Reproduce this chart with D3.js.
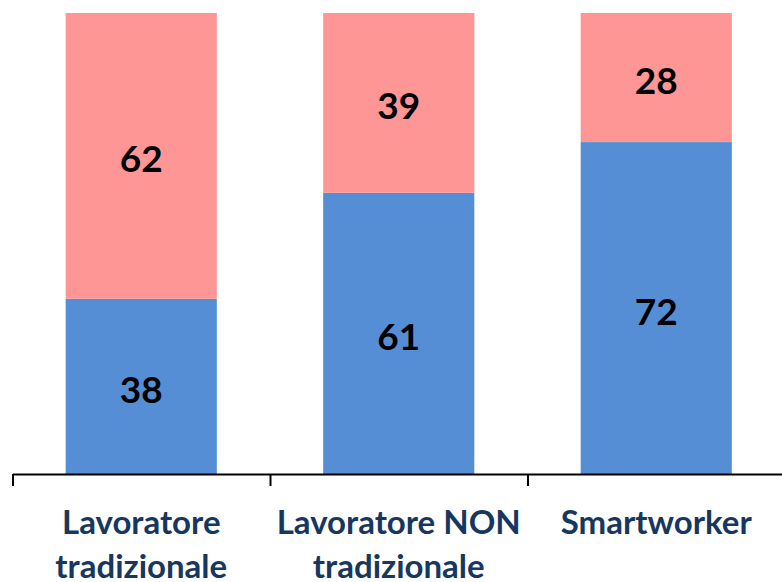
<!DOCTYPE html>
<html lang="it">
<head>
    <meta charset="UTF-8">
    <title>Lavoratori</title>
    <script src="https://d3js.org/d3.v7.min.js"></script>
    <style>
        body { margin: 0; background: #fff; }
        .domain, .tick line { stroke: #000; stroke-width: 2px; }
        .num { font-family: Lato, "Open Sans", sans-serif; font-weight: bold; font-size: 37px; fill: #000; }
        .cat { font-family: Lato, "Open Sans", sans-serif; font-weight: bold; font-size: 33px; fill: #17375E; }
    </style>
</head>
<body>
    <svg width="782" height="582"></svg>
    <script>
        const categories = [["Lavoratore", "tradizionale"], ["Lavoratore NON", "tradizionale"], ["Smartworker"]];
        const blueValues = [38, 61, 72];
        const pinkValues = [62, 39, 28];

        const svg = d3.select("svg");

        const x = d3.scaleBand()
            .domain(d3.range(categories.length))
            .range([12.5, 785])
            .paddingInner(0.413)
            .paddingOuter(0.2065);

        const y = d3.scaleLinear().domain([0, 100]).range([474, 13]);

        const rows = categories.map((c, i) => ({ i, blue: blueValues[i], pink: pinkValues[i] }));
        const stacked = d3.stack().keys(["blue", "pink"])(rows);
        const colors = { blue: "#558ED5", pink: "#FF9696" };

        const layer = svg.selectAll(".layer")
            .data(stacked)
            .enter().append("g")
            .attr("fill", d => colors[d.key]);

        layer.selectAll("rect")
            .data(d => d)
            .enter().append("rect")
            .attr("x", d => x(d.data.i))
            .attr("width", x.bandwidth())
            .attr("y", d => y(d[1]))
            .attr("height", d => y(d[0]) - y(d[1]));

        layer.selectAll("text")
            .data(d => d)
            .enter().append("text")
            .attr("class", "num")
            .attr("text-anchor", "middle")
            .attr("dominant-baseline", "central")
            .attr("x", d => x(d.data.i) + x.bandwidth() / 2)
            .attr("y", d => (y(d[0]) + y(d[1])) / 2 + 2)
            .text(d => d[1] - d[0]);

        // category axis with ticks between groups
        const step = x.step();
        const tickPos = d3.range(categories.length + 1).map(k => 12.5 + k * step);
        const axisScale = d3.scaleLinear().domain([0, categories.length]).range([12.5, 12.5 + categories.length * step]);
        svg.append("g")
            .attr("transform", "translate(0,474)")
            .call(d3.axisBottom(axisScale).tickValues(d3.range(categories.length + 1)).tickSize(12).tickSizeOuter(0).tickFormat(""));

        const labels = svg.selectAll(".cat")
            .data(categories)
            .enter().append("text")
            .attr("class", "cat")
            .attr("text-anchor", "middle")
            .attr("x", (d, i) => x(i) + x.bandwidth() / 2)
            .attr("y", 534);

        labels.selectAll("tspan")
            .data(d => d)
            .enter().append("tspan")
            .attr("x", function () { return d3.select(this.parentNode).attr("x"); })
            .attr("dy", (d, k) => k === 0 ? 0 : 44)
            .text(d => d);
    </script>
</body>
</html>
